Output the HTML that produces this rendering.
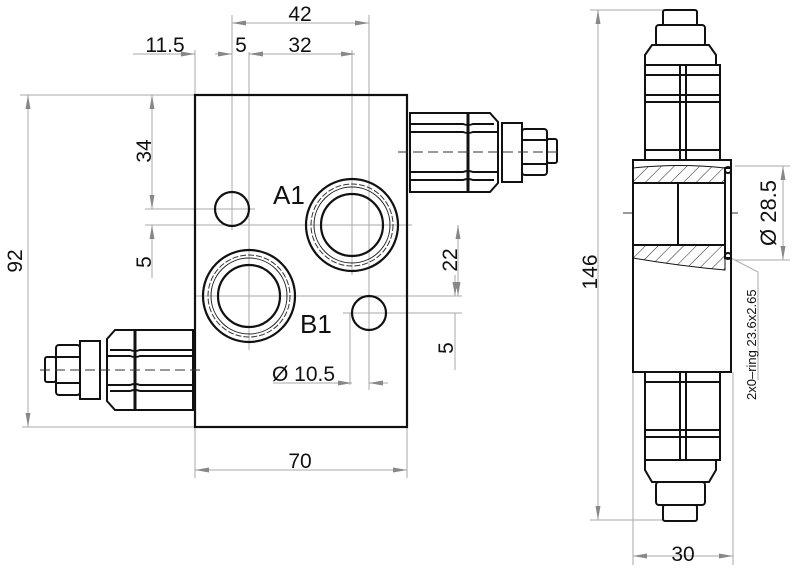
<!DOCTYPE html>
<html><head><style>html,body{margin:0;padding:0;background:#fff}svg{display:block}</style></head>
<body>
<svg width="800" height="583" viewBox="0 0 800 583" xmlns="http://www.w3.org/2000/svg" font-family="Liberation Sans, sans-serif">
<defs>
<marker id="a" viewBox="0 0 14 6" refX="14" refY="3" markerWidth="14" markerHeight="6" markerUnits="userSpaceOnUse" orient="auto"><path d="M0,0.5 L14,3 L0,5.5 z" fill="#888"/></marker>
<marker id="b" viewBox="0 0 14 6" refX="0" refY="3" markerWidth="14" markerHeight="6" markerUnits="userSpaceOnUse" orient="auto"><path d="M14,0.5 L0,3 L14,5.5 z" fill="#888"/></marker>
<pattern id="h" width="9" height="9" patternUnits="userSpaceOnUse" patternTransform="rotate(45)"><line x1="0" y1="0" x2="0" y2="9" stroke="#222" stroke-width="1"/></pattern>
</defs>
<g stroke="#aaa" stroke-width="1" fill="none">
<line x1="20" y1="95" x2="195" y2="95"/><line x1="22" y1="427" x2="195" y2="427"/>
<line x1="195" y1="50" x2="195" y2="95"/><line x1="407" y1="427" x2="407" y2="478"/><line x1="195" y1="427" x2="195" y2="478"/>
<line x1="232" y1="15" x2="232" y2="230"/><line x1="249" y1="52" x2="249" y2="350"/>
<line x1="352" y1="50" x2="352" y2="275"/><line x1="369" y1="15" x2="369" y2="390"/>
<line x1="145" y1="209" x2="255" y2="209"/><line x1="145" y1="225" x2="412" y2="225"/>
<line x1="195" y1="296" x2="462" y2="296"/><line x1="343" y1="313" x2="462" y2="313"/>
<line x1="455" y1="313" x2="455" y2="370"/><line x1="350" y1="313" x2="350" y2="385"/>
<line x1="735" y1="166" x2="790" y2="166"/><line x1="735" y1="260" x2="790" y2="260"/>
<line x1="590" y1="10" x2="665" y2="10"/><line x1="590" y1="520" x2="665" y2="520"/>
<line x1="633" y1="372" x2="633" y2="565"/><line x1="733" y1="372" x2="733" y2="565"/>
<polyline points="731,258 758,272 758,380"/>
</g>
<g stroke="#aaa" stroke-width="1" fill="none">
<line x1="232" y1="23" x2="369" y2="23" marker-start="url(#b)" marker-end="url(#a)"/>
<line x1="133" y1="54" x2="195" y2="54" marker-end="url(#a)"/>
<line x1="215" y1="54" x2="232" y2="54" marker-end="url(#a)"/>
<line x1="249" y1="54" x2="355" y2="54" marker-start="url(#b)" marker-end="url(#a)"/>
<line x1="28" y1="95" x2="28" y2="427" marker-start="url(#b)" marker-end="url(#a)"/>
<line x1="152" y1="95" x2="152" y2="209" marker-start="url(#b)" marker-end="url(#a)"/>
<line x1="152" y1="225" x2="152" y2="278" marker-start="url(#b)"/>
<line x1="458" y1="225" x2="458" y2="296" marker-start="url(#b)" marker-end="url(#a)"/>
<line x1="455" y1="275" x2="455" y2="296" marker-end="url(#a)"/>
<line x1="273" y1="383" x2="352" y2="383" marker-end="url(#a)"/>
<line x1="369" y1="383" x2="388" y2="383" marker-start="url(#b)"/>
<line x1="195" y1="470" x2="407" y2="470" marker-start="url(#b)" marker-end="url(#a)"/>
<line x1="598" y1="10" x2="598" y2="520" marker-start="url(#b)" marker-end="url(#a)"/>
<line x1="783" y1="166" x2="783" y2="260" marker-start="url(#b)" marker-end="url(#a)"/>
<line x1="633" y1="556" x2="733" y2="556" marker-start="url(#b)" marker-end="url(#a)"/>
</g>
<g stroke="#111" stroke-width="2.2" fill="none">
<rect x="195" y="95" width="212" height="332"/>
<circle cx="232" cy="209" r="17"/><circle cx="369" cy="313" r="17"/>
<circle cx="352" cy="225" r="46"/><circle cx="352" cy="225" r="31"/>
<circle cx="249" cy="296" r="46"/><circle cx="249" cy="296" r="31"/>
</g>
<g stroke="#333" stroke-width="1" fill="none" stroke-dasharray="6,2">
<circle cx="352" cy="225" r="41"/><circle cx="249" cy="296" r="41"/>
</g>
<g stroke="#222" stroke-width="1" fill="none">
<circle cx="352" cy="225" r="38"/><circle cx="249" cy="296" r="38"/>
</g>
<!-- right valve -->
<g stroke="#111" stroke-width="2" fill="#fff">
<path d="M410,113 H490 L498,122 V183 L490,192 H410 Z"/>
<line x1="468" y1="113" x2="468" y2="192" stroke-width="3"/>
<path d="M410,124 H463 Q468,126 473,124 H494" fill="none"/>
<path d="M410,132 H463 Q468,134 473,132 H497" fill="none"/>
<path d="M410,172 H463 Q468,170 473,172 H497" fill="none"/>
<path d="M410,180 H463 Q468,178 473,180 H494" fill="none"/>
<rect x="502" y="123" width="20" height="59"/>
<rect x="522" y="129" width="25" height="46" rx="3"/>
<line x1="522" y1="140" x2="547" y2="140"/><line x1="522" y1="164" x2="547" y2="164"/>
<rect x="547" y="139" width="10" height="24" rx="2"/>
</g>
<!-- left valve -->
<g stroke="#111" stroke-width="2" fill="#fff">
<path d="M193,330 H115 L107,339 V401 L115,410 H193 Z"/>
<line x1="135" y1="330" x2="135" y2="410" stroke-width="3"/>
<path d="M193,350 H140 Q135,352 130,350 H110" fill="none"/>
<path d="M193,356 H140 Q135,358 130,356 H107" fill="none"/>
<path d="M193,385 H140 Q135,383 130,385 H107" fill="none"/>
<path d="M193,391 H140 Q135,389 130,391 H110" fill="none"/>
<rect x="80" y="341" width="20" height="58"/>
<rect x="56" y="345" width="24" height="50" rx="3"/>
<line x1="56" y1="357" x2="80" y2="357"/><line x1="56" y1="383" x2="80" y2="383"/>
<rect x="45" y="357" width="11" height="25" rx="2"/>
</g>
<g stroke="#333" stroke-width="1" stroke-dasharray="10,5">
<line x1="398" y1="152" x2="560" y2="152"/><line x1="40" y1="370" x2="200" y2="370"/>
<line x1="623" y1="213" x2="740" y2="213"/>
<line x1="683" y1="50" x2="683" y2="160"/><line x1="683" y1="375" x2="683" y2="480"/>
</g>
<!-- right view -->
<g stroke="#111" stroke-width="2" fill="#fff">
<rect x="663" y="10" width="34" height="16" rx="2"/>
<rect x="656" y="25" width="49" height="21" rx="3"/>
<path d="M652,45 H709 L716,55 V65 H645 V55 Z"/>
<rect x="645" y="65" width="75" height="95"/>
<line x1="645" y1="75" x2="720" y2="75"/>
<line x1="645" y1="95" x2="720" y2="95"/><line x1="645" y1="102" x2="720" y2="102"/>
<line x1="645" y1="150" x2="720" y2="150"/>
<line x1="680" y1="65" x2="680" y2="160"/><line x1="686" y1="65" x2="686" y2="160"/>
<rect x="645" y="372" width="75" height="88"/>
<line x1="645" y1="382" x2="720" y2="382"/>
<line x1="645" y1="430" x2="720" y2="430"/><line x1="645" y1="437" x2="720" y2="437"/>
<line x1="680" y1="372" x2="680" y2="460"/><line x1="686" y1="372" x2="686" y2="460"/>
<path d="M645,460 H716 V470 L709,482 H652 L645,470 Z"/>
<rect x="656" y="482" width="49" height="23" rx="3"/>
<rect x="663" y="505" width="34" height="16" rx="2"/>
<rect x="633" y="160" width="98" height="212"/>
</g>
<path d="M633,168 Q680,163 725,168 V183 H633 Z" fill="url(#h)" stroke="#111" stroke-width="1"/>
<path d="M633,245 H725 V270 Q680,266 633,258 Z" fill="url(#h)" stroke="#111" stroke-width="1"/>
<g stroke="#111" stroke-width="2" fill="none">
<line x1="633" y1="183" x2="725" y2="183"/><line x1="633" y1="245" x2="725" y2="245"/>
<line x1="678" y1="183" x2="678" y2="245"/>
<rect x="725" y="168" width="6" height="90"/>
<circle cx="728" cy="170" r="3"/><circle cx="728" cy="256" r="3"/>
</g>
<g fill="#111" font-size="21">
<text x="300" y="21" text-anchor="middle">42</text>
<text x="165" y="52" text-anchor="middle">11.5</text>
<text x="241" y="52" text-anchor="middle">5</text>
<text x="300" y="52" text-anchor="middle">32</text>
<text x="300" y="468" text-anchor="middle">70</text>
<text x="683" y="561" text-anchor="middle">30</text>
<text x="272" y="381">Ø 10.5</text>
<text transform="translate(22,261) rotate(-90)" text-anchor="middle">92</text>
<text transform="translate(151,151) rotate(-90)" text-anchor="middle">34</text>
<text transform="translate(151,262) rotate(-90)" text-anchor="middle">5</text>
<text transform="translate(457,260) rotate(-90)" text-anchor="middle">22</text>
<text transform="translate(453,348) rotate(-90)" text-anchor="middle">5</text>
<text transform="translate(597,272) rotate(-90)" text-anchor="middle">146</text>
<text transform="translate(776,213) rotate(-90)" text-anchor="middle" font-size="22">Ø 28.5</text>
<text x="273" y="204" font-size="26">A1</text>
<text x="300" y="333" font-size="26">B1</text>
<text transform="translate(756,400) rotate(-90)" font-size="13">2x0–ring  23.6x2.65</text>
</g>
</svg>
</body></html>
